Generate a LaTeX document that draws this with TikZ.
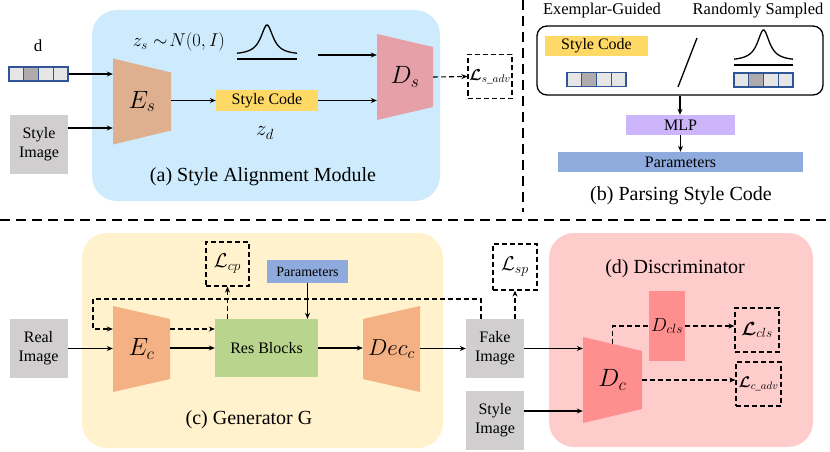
\RequirePackage{fix-cm}
\documentclass[tikz,border=0pt]{standalone}
\usepackage{fontspec}
\setmainfont{Liberation Serif}
\usepackage{amsmath,bm}
\usetikzlibrary{positioning,arrows.meta}
\definecolor{bluebg}{RGB}{205,235,252}
\definecolor{yellowbg}{RGB}{255,242,204}
\definecolor{pinkbg}{RGB}{255,204,204}
\definecolor{tanE}{RGB}{223,176,143}
\definecolor{pinkD}{RGB}{229,160,168}
\definecolor{orangeE}{RGB}{244,177,131}
\definecolor{redD}{RGB}{255,143,143}
\definecolor{codeyel}{RGB}{255,217,102}
\definecolor{imggray}{RGB}{208,206,206}
\definecolor{cellgray}{RGB}{231,230,230}
\definecolor{celldark}{RGB}{175,171,171}
\definecolor{vecblue}{RGB}{47,85,151}
\definecolor{mlpviolet}{RGB}{204,181,251}
\definecolor{parblue}{RGB}{143,170,220}
\definecolor{resgreen}{RGB}{185,212,140}

\begin{document}
\begin{tikzpicture}[x=1pt, y=-1pt,
  region/.style={rounded corners=25, inner sep=0},
  lbl/.style={font=\fontsize{20}{24}\selectfont},
  img/.style={fill=imggray, align=center, font=\fontsize{16}{19}\selectfont, minimum width=58, minimum height=59, inner sep=0},
  bar/.style={inner sep=0, font=\fontsize{16}{18}\selectfont},
  cell/.style={draw=vecblue, line width=1.2, minimum width=14.75, minimum height=14, inner sep=0},
  loss/.style={draw, dash pattern=on 5pt off 3pt, line width=1.2, inner sep=0, minimum width=44, minimum height=44},
  trap/.style 2 args={minimum width=58, minimum height=86, inner sep=0, font=\fontsize{25}{27}\selectfont,
    path picture={\fill[#1] (path picture bounding box.north west) -- ([yshift=-#2]path picture bounding box.north east)
      -- ([yshift=#2]path picture bounding box.south east) -- (path picture bounding box.south west) -- cycle;}},
  partr/.style 2 args={minimum width=58, minimum height=86, inner sep=0, font=\fontsize{25}{27}\selectfont,
    path picture={\fill[#1] ([yshift=-#2]path picture bounding box.north west) -- (path picture bounding box.north east)
      -- (path picture bounding box.south east) -- ([yshift=#2]path picture bounding box.south west) -- cycle;}},
  arr/.style={-{Stealth[length=6pt, width=5pt]}, line width=1.1},
  darr/.style={arr, dash pattern=on 5pt off 3pt},
  sep/.style={line width=2.8, dash pattern=on 10pt off 6pt}]
\useasboundingbox (0,0) rectangle (830,452);

\node[region, fill=bluebg, minimum width=348, minimum height=191] (ra) at (266,105.5) {};
\node[region, fill=yellowbg, minimum width=361, minimum height=215] (rc) at (262.5,340.5) {};
\node[region, fill=pinkbg, minimum width=264, minimum height=214] (rd) at (681,340) {};
\draw[sep] (523,0) -- (523,212);
\draw[sep] (0,220) -- (830,220);

\node[lbl] (la) at (263,177) {(a) Style Alignment Module};
\node[lbl] (lb) at (681,196) {(b) Parsing Style Code};
\node[lbl] (lc) at (249,420) {(c) Generator G};
\node[lbl] (ld) at (675,269) {(d) Discriminator};

\node[font=\fontsize{17}{19}\selectfont] (dlab) at (38,46) {d};
\foreach \i/\c in {0/cellgray,1/celldark,2/cellgray,3/cellgray}
  \node[cell, fill=\c] (d\i) at ({16.4+14.75*\i},74) {};
\node[img] (simg) at (39,144) {Style\\Image};
\node[trap={tanE}{14pt}] (Es) at (142,101.5) {$E_s$};
\node[bar, fill=codeyel, minimum width=102, minimum height=21] (sca) at (267,100.5) {Style Code};
\node[font=\fontsize{21}{23}\selectfont] (zd) at (265,133) {$z_d$};
\node[font=\fontsize{18.5}{20}\selectfont] (zs) at (179,42) {$z_s \sim\! N(0,I)$};
\draw[line width=1.3] plot[domain=-1:1, samples=60] ({267+30*\x}, {55-30/(1+16*\x*\x)});
\draw[line width=1.3] (237,59) -- (297,59);
\coordinate (gs) at (318,55);
\node[trap={pinkD}{13pt}, minimum width=56] (Ds) at (405,77) {$D_s$};
\node[loss, font=\fontsize{16}{18}\selectfont] (lsadv) at (490,76.5) {$\bm{\mathcal{L}}_{s\_adv}$};
\draw[arr] (d3.east) -- (d3.east -| Es.west);
\draw[arr] ([yshift=16pt]simg.east) -- ([yshift=16pt]simg.east -| Es.west);
\draw[arr] (Es.east |- sca.west) -- (sca.west);
\draw[arr] (sca.east) -- (sca.east -| Ds.west);
\draw[arr] (gs) -- (gs -| Ds.west);
\draw[darr] (Ds.east) -- (lsadv.west);

\node[font=\fontsize{16.5}{18}\selectfont] (eg) at (602,11) {Exemplar-Guided};
\node[font=\fontsize{16.5}{18}\selectfont] (rs) at (758,11) {Randomly Sampled};
\node[draw, line width=1.3, rounded corners=10, minimum width=286, minimum height=69] (choice) at (680,60.5) {};
\node[bar, fill=codeyel, minimum width=103, minimum height=20] (scb) at (596.5,46) {Style Code};
\foreach \i/\c in {0/cellgray,1/celldark,2/cellgray,3/cellgray}
  \node[cell, fill=\c] (e\i) at ({574.4+14.75*\i},79.5) {};
\draw[line width=1.3] (697,38) -- (678,87);
\draw[line width=1.3] plot[domain=-1:1, samples=60] ({763.5+29.5*\x}, {61-31/(1+16*\x*\x)});
\draw[line width=1.3] (734,65) -- (793,65);
\foreach \i/\c in {0/cellgray,1/celldark,2/cellgray,3/cellgray}
  \node[cell, fill=\c] (r\i) at ({741.4+14.75*\i},80) {};
\node[bar, fill=mlpviolet, minimum width=109, minimum height=20] (mlp) at (680.5,125) {MLP};
\node[bar, fill=parblue, minimum width=245, minimum height=20] (parb) at (680.5,162) {Parameters};
\draw[arr] (choice.south) -- (choice.south |- mlp.north);
\draw[arr] (mlp.south) -- (parb.north);

\node[img] (real) at (38.5,348.5) {Real\\Image};
\node[trap={orangeE}{13pt}, minimum width=57] (Ec) at (141.5,349) {$E_c$};
\node[bar, fill=resgreen, minimum width=103, minimum height=58] (res) at (266.5,348) {Res Blocks};
\node[bar, fill=parblue, minimum width=81, minimum height=23, font=\fontsize{14}{16}\selectfont] (parc) at (307.5,271.5) {Parameters};
\node[loss, minimum width=43, font=\fontsize{20}{22}\selectfont] (lcp) at (227.5,264) {$\mathcal{L}_{cp}$};
\node[partr={orangeE}{13pt}, minimum width=57, font=\fontsize{23}{25}\selectfont] (dec) at (391.5,349) {$Dec_c$};
\node[img] (fake) at (495,348.5) {Fake\\Image};
\node[img] (simgb) at (495,420) {Style\\Image};
\node[loss, minimum height=46, font=\fontsize{20}{22}\selectfont] (lsp) at (515,267) {$\mathcal{L}_{sp}$};
\coordinate (loopc) at (93,299);
\draw[arr] (real.east) -- (real.east -| Ec.west);
\draw[arr] (Ec.east |- res.west) -- (res.west);
\draw[darr] ([yshift=20pt]Ec.east) -- ([yshift=20pt]Ec.east -| res.west);
\draw[darr] (res.north -| lcp) -- (lcp.south);
\draw[arr] (parc.south) -- (parc.south |- res.north);
\draw[arr] (res.east) -- (res.east -| dec.west);
\draw[arr] (dec.east |- fake.west) -- (fake.west);
\draw[darr] ([xshift=-14pt]fake.north) |- (loopc) |- ([yshift=20pt]Ec.west);
\draw[darr] (fake.north -| lsp) -- (lsp.south);

\node[trap={redD}{14pt}, minimum width=59] (Dc) at (612.5,380) {$D_c$};
\node[bar, fill=redD, minimum width=36, minimum height=70, font=\fontsize{19}{21}\selectfont] (dcls) at (667,326) {$D_{cls}$};
\node[loss, font=\fontsize{19}{21}\selectfont] (lcls) at (757,330) {$\bm{\mathcal{L}}_{cls}$};
\node[loss, minimum width=45, font=\fontsize{15.5}{17}\selectfont] (lcadv) at (758.5,384) {$\bm{\mathcal{L}}_{c\_adv}$};
\draw[arr] (fake.east) -- (fake.east -| Dc.west);
\draw[arr] ([yshift=9pt]simgb.east) -- ([yshift=9pt]simgb.east -| Dc.west);
\draw[dash pattern=on 5pt off 3pt, line width=1.1] ([yshift=-7pt]Dc.north) |- (dcls.west);
\draw[darr] (dcls.east) -- (dcls.east -| lcls.west);
\draw[darr] (Dc.east) -- (Dc.east -| lcadv.west);
\end{tikzpicture}
\end{document}
